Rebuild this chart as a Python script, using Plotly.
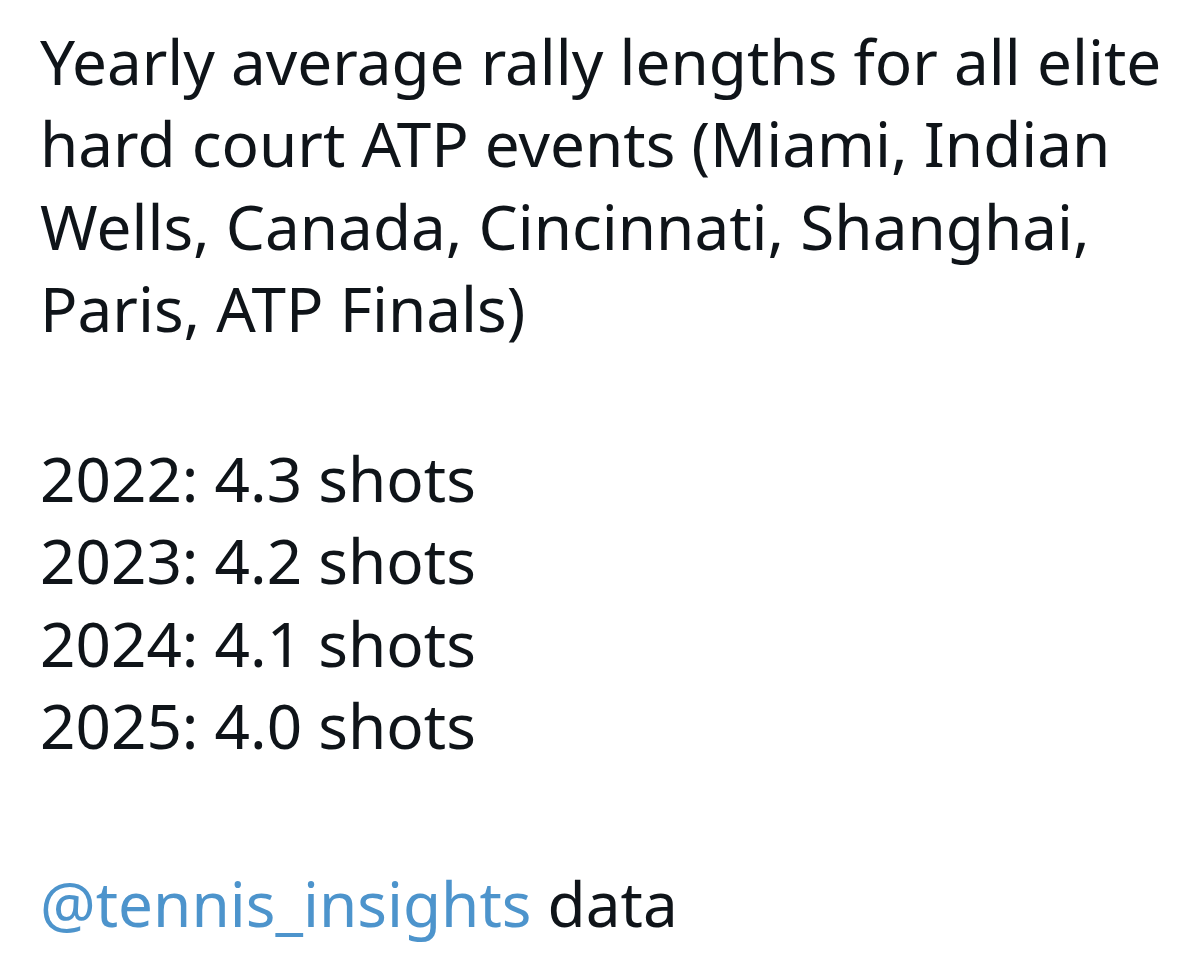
import plotly.graph_objects as go

title_lines = [
    "Yearly average rally lengths for all elite",
    "hard court ATP events (Miami, Indian",
    "Wells, Canada, Cincinnati, Shanghai,",
    "Paris, ATP Finals)",
]
years = [2022, 2023, 2024, 2025]
rally_lengths = [4.3, 4.2, 4.1, 4.0]
unit = "shots"
handle = "@tennis_insights"
source_suffix = "data"

W, H = 1200, 967
TEXT = "#0f1419"
LINK = "#4d94cc"
FONT = "Noto Sans"
SIZE = 62
LEFT = 30
LINE_H = 82.3

def ypx(p):
    return 1 - p / H

fig = go.Figure()
anns = []
y0 = 53
for i, t in enumerate(title_lines):
    anns.append(dict(text=t, x=LEFT / W, y=ypx(y0 + i * LINE_H)))
y1 = 470
for i, (yr, v) in enumerate(zip(years, rally_lengths)):
    anns.append(dict(text=f"{yr}: {v:.1f} {unit}", x=LEFT / W, y=ypx(y1 + i * LINE_H)))
anns.append(dict(text=f"<span style='color:{LINK}'>{handle}</span> {source_suffix}",
                 x=LEFT / W, y=ypx(895)))
for a in anns:
    a.update(xref="paper", yref="paper", xanchor="left", yanchor="middle",
             showarrow=False, font=dict(family=FONT, size=SIZE, color=TEXT))

fig.update_layout(
    width=W, height=H, margin=dict(l=0, r=0, t=0, b=0),
    paper_bgcolor="white", plot_bgcolor="white",
    xaxis=dict(visible=False, range=[0, 1]),
    yaxis=dict(visible=False, range=[0, 1]),
    annotations=anns,
)
fig.write_html("out.html")
